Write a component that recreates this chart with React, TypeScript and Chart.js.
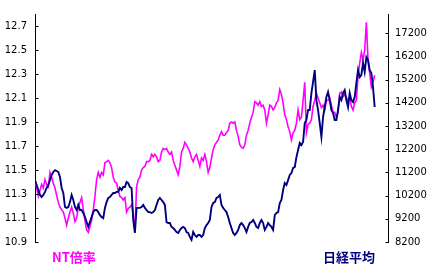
import React, { useEffect, useRef } from "react";
import { Chart, registerables } from "chart.js";

Chart.register(...registerables);

// NT ratio (left axis)
const ntRatio: number[] = [
  11.42, 11.35, 11.28, 11.33, 11.38, 11.35, 11.42, 11.38, 11.36, 11.48,
  11.44, 11.39, 11.35, 11.29, 11.23, 11.19, 11.17, 11.15, 11.10, 11.04,
  11.10, 11.15, 11.19, 11.14, 11.07, 11.10, 11.19, 11.23, 11.27, 11.17,
  11.08, 11.00, 10.98, 11.03, 11.08, 11.17, 11.28, 11.42, 11.48, 11.44,
  11.48, 11.46, 11.56, 11.57, 11.58, 11.56, 11.52, 11.44, 11.40, 11.39,
  11.33, 11.28, 11.27, 11.25, 11.27,
  11.15, 11.18, 11.19, 11.21, 11.13, 10.98, 11.36, 11.42, 11.44, 11.50,
  11.52, 11.53, 11.57, 11.57, 11.58, 11.63, 11.61, 11.63, 11.61, 11.57,
  11.58, 11.65, 11.68, 11.67, 11.68, 11.65, 11.63, 11.65, 11.58, 11.54,
  11.50, 11.46, 11.53, 11.65, 11.68, 11.73, 11.71, 11.68, 11.65, 11.60,
  11.57, 11.61, 11.63, 11.58, 11.53, 11.60, 11.58, 11.63, 11.57, 11.48,
  11.52,
  11.60, 11.67, 11.71, 11.73, 11.75, 11.79, 11.82, 11.79, 11.79, 11.81,
  11.83, 11.89, 11.90, 11.89, 11.90, 11.83, 11.78, 11.71, 11.69, 11.68,
  11.71, 11.79, 11.83, 11.89, 11.94, 11.98, 12.07, 12.06, 12.04, 12.07,
  12.03, 12.04, 12.00, 11.89, 11.96, 12.04, 12.03, 12.00, 12.02, 12.06,
  12.08, 12.17, 12.13, 12.06, 11.96, 11.92, 11.86, 11.82, 11.75, 11.81,
  11.83,
  11.89, 12.00, 11.92, 11.94, 12.08, 12.23, 11.81, 11.88, 11.89, 11.92,
  12.03, 12.08, 12.14, 12.10, 12.06, 12.02, 12.04, 12.00, 12.08, 12.08,
  12.10, 12.04, 11.98, 11.98, 11.94, 11.98, 12.14, 12.15, 12.11, 12.13,
  12.10, 12.08, 12.11, 12.03, 12.00, 12.06, 12.08, 12.29, 12.39, 12.48,
  12.42, 12.50, 12.73, 12.42, 12.31, 12.19, 12.23, 12.29,
];

// Nikkei average (right axis)
const nikkei: number[] = [
  10870, 10660, 10440, 10230, 10140, 10230, 10360, 10530, 10660, 10870,
  11090, 11220, 11300, 11260, 11220, 11000, 10530, 10310, 9710, 9670,
  9710, 9920, 10230, 10010, 9710, 9580, 9800, 9580, 9580, 9450,
  9280, 9060, 8850, 9060, 9280, 9490, 9580, 9580, 9490, 9360,
  9280, 9230, 9670, 9920, 10100, 10140, 10230, 10310, 10310, 10360,
  10360, 10530, 10440, 10570, 10570,
  10790, 10740, 10570, 10530, 9150, 8590, 9670, 9670, 9670, 9710,
  9800, 9670, 9580, 9490, 9490, 9450, 9490, 9580, 9800, 10010,
  10100, 10010, 9920, 9800, 9060, 9020, 9020, 8850, 8800, 8720,
  8630, 8590, 8720, 8800, 8850, 8800, 8630, 8590, 8420, 8290,
  8630, 8500, 8420, 8500, 8500, 8420, 8500, 8800, 8930, 9020,
  9150,
  9710, 9880, 9920, 10100, 10140, 10230, 9800, 9670, 9580, 9490,
  9280, 9020, 8800, 8590, 8500, 8590, 8720, 8930, 9020, 8930,
  8800, 8630, 8850, 9020, 9060, 9150, 9020, 8850, 8800, 9020,
  9150, 9020, 8720, 8850, 9020, 8930, 8850, 8720, 9360, 9450,
  9490, 9880, 10010, 10440, 10740, 10660, 10870, 11090, 11170, 11390,
  11430,
  11860, 12170, 12470, 12380, 12510, 13330, 13460, 13890, 13890, 14620,
  15100, 15610, 14320, 13890, 13330, 12730, 13590, 14020, 14450, 14670,
  14320, 13890, 13760, 13460, 13460, 13890, 14450, 14320, 14620, 14750,
  14320, 14020, 14620, 14320, 14230, 14450, 15050, 15610, 15310, 15400,
  15920, 15530, 16170, 16040, 15610, 15480, 14880, 14020,
];

const leftTicks: number[] = [10.9, 11.1, 11.3, 11.5, 11.7, 11.9, 12.1, 12.3, 12.5, 12.7];
const rightTicks: number[] = [8200, 9200, 10200, 11200, 12200, 13200, 14200, 15200, 16200, 17200];

const seriesNames = { nt: "NT倍率", nikkei: "日経平均" };
const colors = { nt: "#FF00FF", nikkei: "#000080" };

const innerTicksAndTitles = {
  id: "innerTicksAndTitles",
  afterDraw(chart: any) {
    const ctx = chart.ctx;
    const area = chart.chartArea;
    ctx.save();
    ctx.strokeStyle = "#000";
    ctx.lineWidth = 1;
    const yl = chart.scales.yL;
    const yr = chart.scales.yR;
    const xl = Math.round(yl.right) + 0.5;
    yl.ticks.forEach((t: any) => {
      const y = Math.round(yl.getPixelForValue(t.value)) + 0.5;
      ctx.beginPath();
      ctx.moveTo(xl, y);
      ctx.lineTo(xl + 3, y);
      ctx.stroke();
    });
    const xr = Math.round(yr.left) + 0.5;
    yr.ticks.forEach((t: any) => {
      const y = Math.round(yr.getPixelForValue(t.value)) + 0.5;
      ctx.beginPath();
      ctx.moveTo(xr - 3, y);
      ctx.lineTo(xr, y);
      ctx.stroke();
    });
    ctx.font = "bold 13px 'Noto Sans CJK JP'";
    ctx.textBaseline = "middle";
    ctx.fillStyle = colors.nt;
    ctx.textAlign = "left";
    ctx.fillText(seriesNames.nt, area.left + 17, area.bottom + 15);
    ctx.fillStyle = colors.nikkei;
    ctx.textAlign = "right";
    ctx.fillText(seriesNames.nikkei, area.right - 13, area.bottom + 15);
    ctx.restore();
  },
};

export default function App() {
  const ref = useRef<HTMLCanvasElement>(null);
  useEffect(() => {
    const days = ntRatio.map((_, i) => i);
    const chart = new Chart(ref.current!, {
      type: "line",
      data: {
        labels: days,
        datasets: [
          {
            label: seriesNames.nt,
            data: ntRatio,
            yAxisID: "yL",
            borderColor: colors.nt,
            borderWidth: 1.6,
            pointRadius: 0,
            tension: 0,
            order: 2,
          },
          {
            label: seriesNames.nikkei,
            data: nikkei,
            yAxisID: "yR",
            borderColor: colors.nikkei,
            borderWidth: 1.9,
            pointRadius: 0,
            tension: 0,
            order: 1,
          },
        ],
      },
      options: {
        animation: false,
        responsive: false,
        devicePixelRatio: 1,
        layout: { padding: { left: 0, right: 0, top: 14, bottom: 31 } },
        plugins: { legend: { display: false }, tooltip: { enabled: false } },
        scales: {
          x: { type: "linear", min: 0, max: 212, display: false },
          yL: {
            position: "left",
            min: 10.9,
            max: 12.8,
            afterBuildTicks: (s: any) => {
              s.ticks = leftTicks.map((v) => ({ value: v }));
            },
            afterFit: (s: any) => {
              s.width = 35;
            },
            grid: { drawOnChartArea: false, drawTicks: false },
            border: { display: true, color: "#000", width: 1 },
            ticks: {
              padding: 8,
              color: "#000",
              font: { family: "'DejaVu Sans'", size: 10 },
              callback: (v: any) => Number(v).toFixed(1),
            },
          },
          yR: {
            position: "right",
            min: 8200,
            max: 18030,
            afterBuildTicks: (s: any) => {
              s.ticks = rightTicks.map((v) => ({ value: v }));
            },
            afterFit: (s: any) => {
              s.width = 45;
            },
            grid: { drawOnChartArea: false, drawTicks: false },
            border: { display: true, color: "#000", width: 1 },
            ticks: {
              padding: 7,
              color: "#000",
              font: { family: "'DejaVu Sans'", size: 10 },
              callback: (v: any) => String(v),
            },
          },
        },
      },
      plugins: [innerTicksAndTitles],
    });
    return () => chart.destroy();
  }, []);
  return (
    <div style={{ position: "fixed", left: 0, top: 0, width: 433, height: 273, background: "#fff" }}>
      <canvas ref={ref} width={433} height={273} />
    </div>
  );
}
